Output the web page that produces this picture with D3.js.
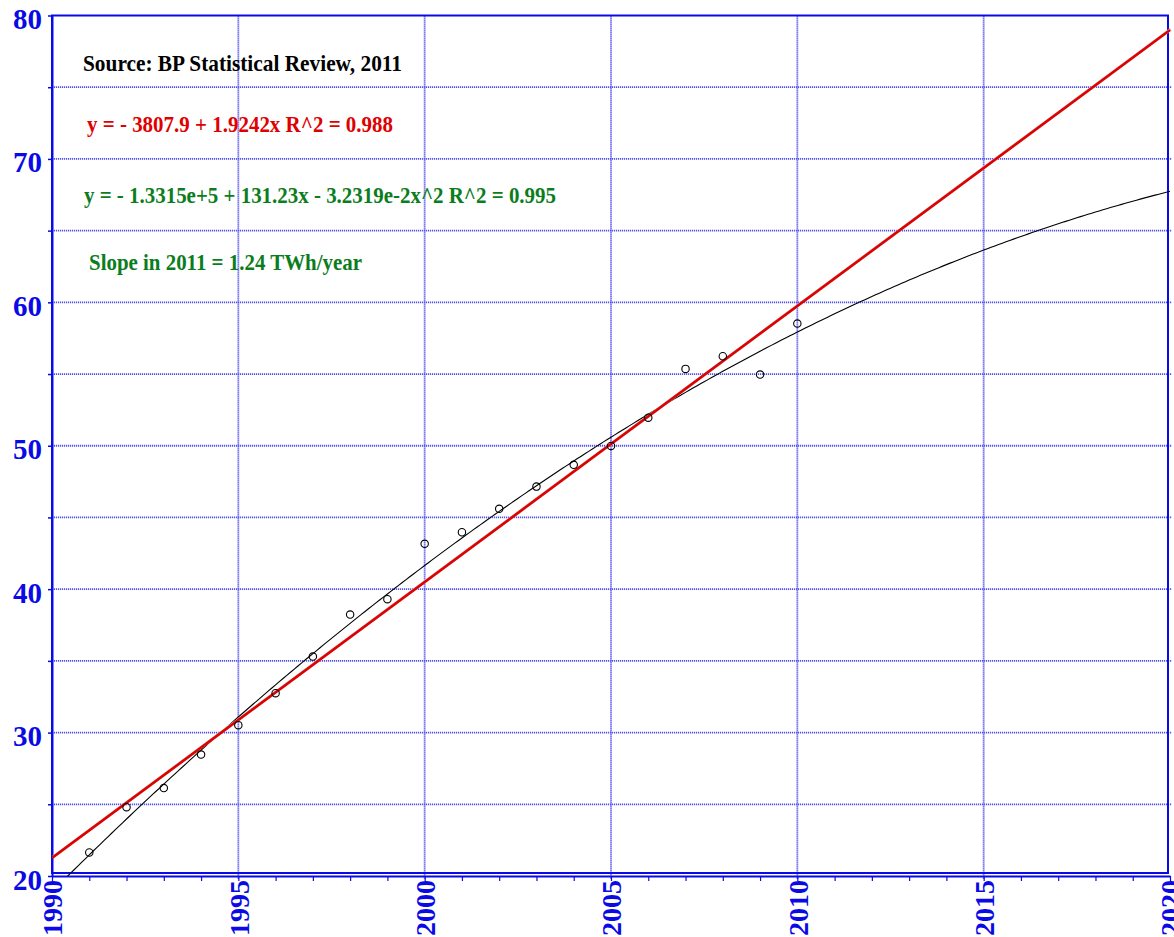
<!DOCTYPE html>
<html>
<head>
<meta charset="utf-8">
<script src="https://cdn.jsdelivr.net/npm/d3@7"></script>
<style>
  html, body { margin: 0; padding: 0; background: #fff; }
  svg { display: block; }
</style>
</head>
<body>
<svg id="chart" width="1174" height="937"></svg>
<script>
// Observed annual values (year, value)
const years = [1991, 1992, 1993, 1994, 1995, 1996, 1997, 1998, 1999, 2000,
               2001, 2002, 2003, 2004, 2005, 2006, 2007, 2008, 2009, 2010];
const values = [21.64, 24.80, 26.13, 28.47, 30.52, 32.75, 35.30, 38.23, 39.30, 43.16,
                43.97, 45.60, 47.15, 48.67, 49.99, 51.96, 55.36, 56.24, 54.96, 58.52];

// Linear fit: y = a + b*x
const linearFit = { a: -3807.9, b: 1.9242 };
// Quadratic fit, expressed around 2011: level, slope in 2011, x^2 coefficient
const quadFit = { x0: 2011, level: 59.2, slope: 1.24, c: -3.2319e-2 };

const xTickYears = d3.range(1990, 2021, 1);
const xLabelYears = [1990, 1995, 2000, 2005, 2010, 2015, 2020];
const yTickValues = d3.range(20, 81, 5);
const yLabelValues = [20, 30, 40, 50, 60, 70, 80];

const notes = [
  { text: "Source:  BP Statistical Review, 2011", color: "#000000", x: 83, y: 71, w: 319 },
  { text: "y =  - 3807.9 + 1.9242x   R^2 = 0.988", color: "#e00000", x: 87, y: 131.5, w: 306 },
  { text: "y =  - 1.3315e+5 + 131.23x - 3.2319e-2x^2   R^2 = 0.995", color: "#0b7d1c", x: 84, y: 203, w: 472 },
  { text: "Slope in  2011 = 1.24 TWh/year", color: "#0b7d1c", x: 89, y: 270, w: 273 }
];

const svg = d3.select("#chart");
const x = d3.scaleLinear().domain([1990, 2020]).range([52, 1170]);
const y = d3.scaleLinear().domain([20, 80]).range([876, 15.5]);

const blue = "#0a0ae6";
const gridBlue = "#5252ee";
const serif = "'Liberation Serif', 'Times New Roman', serif";

// Grid lines
svg.append("g").selectAll("line.v")
  .data(xLabelYears.filter(d => d > 1990 && d < 2020))
  .join("line")
  .attr("x1", d => x(d)).attr("x2", d => x(d))
  .attr("y1", y(80)).attr("y2", y(20) + 3)
  .attr("stroke", gridBlue).attr("stroke-width", 1.8)
  .attr("stroke-dasharray", "1.2,0.8");

svg.append("g").selectAll("line.h")
  .data(yTickValues.filter(d => d > 20 && d < 80))
  .join("line")
  .attr("x1", x(1990)).attr("x2", x(2020) + 2)
  .attr("y1", d => y(d)).attr("y2", d => y(d))
  .attr("stroke", gridBlue).attr("stroke-width", 1.8)
  .attr("stroke-dasharray", "1.2,0.8");

// Frame
svg.append("rect")
  .attr("x", x(1990)).attr("y", y(80))
  .attr("width", x(2020) - 2 - x(1990))
  .attr("height", 873 - y(80))
  .attr("fill", "none").attr("stroke", blue).attr("stroke-width", 2);

// Axes
const xAxis = d3.axisBottom(x)
  .tickValues(xTickYears)
  .tickSize(5)
  .tickSizeOuter(0)
  .tickPadding(4)
  .tickFormat(d => xLabelYears.includes(d) ? String(d) : "");

const gx = svg.append("g")
  .attr("transform", `translate(0,${y(20)})`)
  .call(xAxis);
gx.select(".domain").attr("stroke", blue).attr("stroke-width", 2);
gx.selectAll(".tick line").attr("stroke", blue).attr("stroke-width", 1.2);
gx.selectAll(".tick text")
  .attr("fill", blue)
  .attr("font-family", serif)
  .attr("font-weight", "bold")
  .attr("font-size", 28)
  .attr("text-anchor", "end")
  .attr("transform", "rotate(-90)")
  .attr("x", -4)
  .attr("y", 0)
  .attr("dy", "0.35em");

const yAxis = d3.axisLeft(y)
  .tickValues(yTickValues)
  .tickSize(4)
  .tickSizeOuter(0)
  .tickPadding(6)
  .tickFormat(d => yLabelValues.includes(d) ? String(d) : "");

const gy = svg.append("g")
  .attr("transform", `translate(${x(1990)},0)`)
  .call(yAxis);
gy.select(".domain").attr("stroke", blue).attr("stroke-width", 2);
gy.selectAll(".tick line").attr("stroke", blue).attr("stroke-width", 1.5);
gy.selectAll(".tick text")
  .attr("fill", blue)
  .attr("font-family", serif)
  .attr("font-weight", "bold")
  .attr("font-size", 29)
  .attr("dy", "0.45em");

// Clip region for fit curves
svg.append("defs").append("clipPath").attr("id", "plotClip")
  .append("rect")
  .attr("x", x(1990)).attr("y", y(80))
  .attr("width", x(2020) + 3 - x(1990))
  .attr("height", y(20) - y(80));

const plot = svg.append("g").attr("clip-path", "url(#plotClip)");

// Quadratic fit curve
const fineYears = d3.range(1990, 2020.001, 0.1);
const quad = t => quadFit.level + quadFit.slope * (t - quadFit.x0) + quadFit.c * (t - quadFit.x0) ** 2;
plot.append("path")
  .datum(fineYears)
  .attr("fill", "none")
  .attr("stroke", "#000")
  .attr("stroke-width", 1.1)
  .attr("d", d3.line().x(d => x(d)).y(d => y(quad(d))));

// Linear fit line with a soft grey edge
const lin = t => linearFit.a + linearFit.b * t;
const linEnds = [1990, 2020];
plot.append("path")
  .datum(linEnds)
  .attr("fill", "none")
  .attr("stroke", "#c8c8c8")
  .attr("stroke-width", 3)
  .attr("transform", "translate(0.8,-0.8)")
  .attr("d", d3.line().x(d => x(d)).y(d => y(lin(d))));
plot.append("path")
  .datum(linEnds)
  .attr("fill", "none")
  .attr("stroke", "#e00000")
  .attr("stroke-width", 2.6)
  .attr("d", d3.line().x(d => x(d)).y(d => y(lin(d))));

// Data points
svg.append("g").selectAll("circle")
  .data(years.map((yr, i) => ({ yr, v: values[i] })))
  .join("circle")
  .attr("cx", d => x(d.yr))
  .attr("cy", d => y(d.v))
  .attr("r", 3.7)
  .attr("fill", "none")
  .attr("stroke", "#000")
  .attr("stroke-width", 1.1);

// Annotations
svg.append("g").selectAll("text")
  .data(notes)
  .join("text")
  .attr("x", d => d.x).attr("y", d => d.y)
  .attr("fill", d => d.color)
  .attr("font-family", serif)
  .attr("font-weight", "bold")
  .attr("font-size", 23)
  .attr("textLength", d => d.w)
  .attr("lengthAdjust", "spacingAndGlyphs")
  .text(d => d.text);
</script>
</body>
</html>
